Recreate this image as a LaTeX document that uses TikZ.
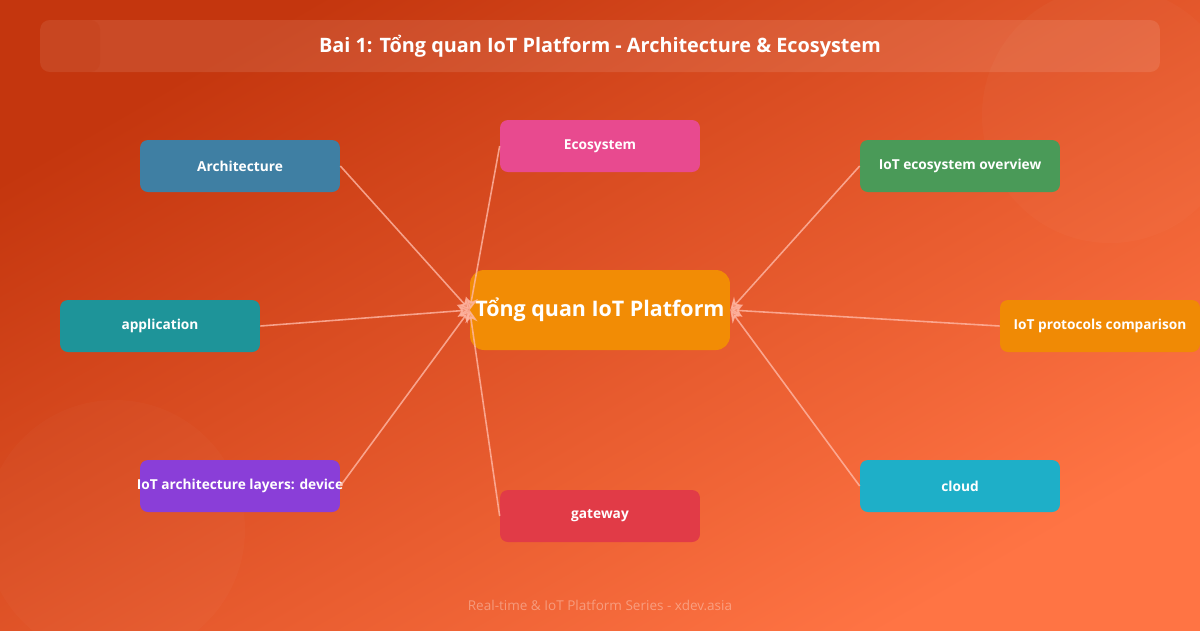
\documentclass[tikz,border=0pt]{standalone}
\usepackage{fontspec}
\setmainfont{Open Sans}
\usetikzlibrary{positioning, arrows.meta}
\definecolor{bgdark}{HTML}{C4360E}
\definecolor{bglight}{HTML}{FF7444}
\definecolor{linkpink}{HTML}{FFB8A6}
\definecolor{archblue}{HTML}{3F7FA3}
\definecolor{ecopink}{HTML}{E84A8F}
\definecolor{ovgreen}{HTML}{4A9A58}
\definecolor{appteal}{HTML}{1E9499}
\definecolor{protoorange}{HTML}{F08A05}
\definecolor{layerpurple}{HTML}{8A3ED8}
\definecolor{gatered}{HTML}{E13B47}
\definecolor{cloudcyan}{HTML}{1EAFC8}
\definecolor{huborange}{HTML}{F28C05}

\begin{document}
\begin{tikzpicture}[x=0.02cm, y=-0.02cm, >=Stealth,
    topic/.style={rectangle, rounded corners=4.5pt, minimum width=4cm, minimum height=1.04cm,
      inner sep=0pt, text=white, font=\bfseries\fontsize{7.8}{9}\selectfont},
    link/.style={draw=linkpink, line width=0.9pt, draw opacity=0.8, fill opacity=0.6,
      -{Stealth[length=7pt, width=7pt, fill=linkpink]}}]
  % background
  \useasboundingbox (0,0) rectangle (1200,630);
  \shade[top color=bgdark, bottom color=bglight, shading angle=30] (0,0) rectangle (1200,630);
  \fill[white, opacity=0.025] (1110,115) circle (128);
  \fill[white, opacity=0.02] (115,530) circle (130);

  % title bar
  \node[rectangle, rounded corners=5.5pt, minimum width=22.4cm, minimum height=1.04cm,
    fill=white, fill opacity=0.1, text opacity=1, text=white,
    font=\bfseries\fontsize{11.3}{13}\selectfont] (title) at (600,46)
    {Bai 1: Tổng quan IoT Platform - Architecture \& Ecosystem};
  \fill[bgdark, opacity=0.2, rounded corners=5.5pt] (40,20) -- (100,20) -- (100,72) -- (40,72) -- cycle;

  % centre
  \node[topic, fill=huborange, minimum width=5.2cm, minimum height=1.6cm, rounded corners=8pt,
    font=\bfseries\fontsize{12.2}{14}\selectfont] (hub) at (600,310) {Tổng quan IoT Platform};

  % topics
  \node[topic, fill=archblue]    (arch)   at (240,166) {Architecture};
  \node[topic, fill=ecopink]     (eco)    at (600,146) {Ecosystem};
  \node[topic, fill=ovgreen]     (ovw)    at (960,166) {IoT ecosystem overview};
  \node[topic, fill=appteal]     (app)    at (160,326) {application};
  \node[topic, fill=protoorange] (proto)  at (1100,326) {IoT protocols comparison};
  \node[topic, fill=layerpurple] (layers) at (240,486) {\makebox[4cm][c]{IoT architecture layers: device}};
  \node[topic, fill=gatered]     (gate)   at (600,516) {gateway};
  \node[topic, fill=cloudcyan]   (cloud)  at (960,486) {cloud};

  % links
  \draw[link] (arch.east)   -- (hub.west);
  \draw[link] (eco.west)    -- (hub.west);
  \draw[link] (app.east)    -- (hub.west);
  \draw[link] (layers.east) -- (hub.west);
  \draw[link] (gate.west)   -- (hub.west);
  \draw[link] (ovw.west)    -- (hub.east);
  \draw[link] (proto.west)  -- (hub.east);
  \draw[link] (cloud.west)  -- (hub.east);

  % footer
  \node[text=white, opacity=0.35, font=\fontsize{7.7}{9}\selectfont] (footer) at (600,605)
    {Real-time \& IoT Platform Series - xdev.asia};
\end{tikzpicture}
\end{document}
